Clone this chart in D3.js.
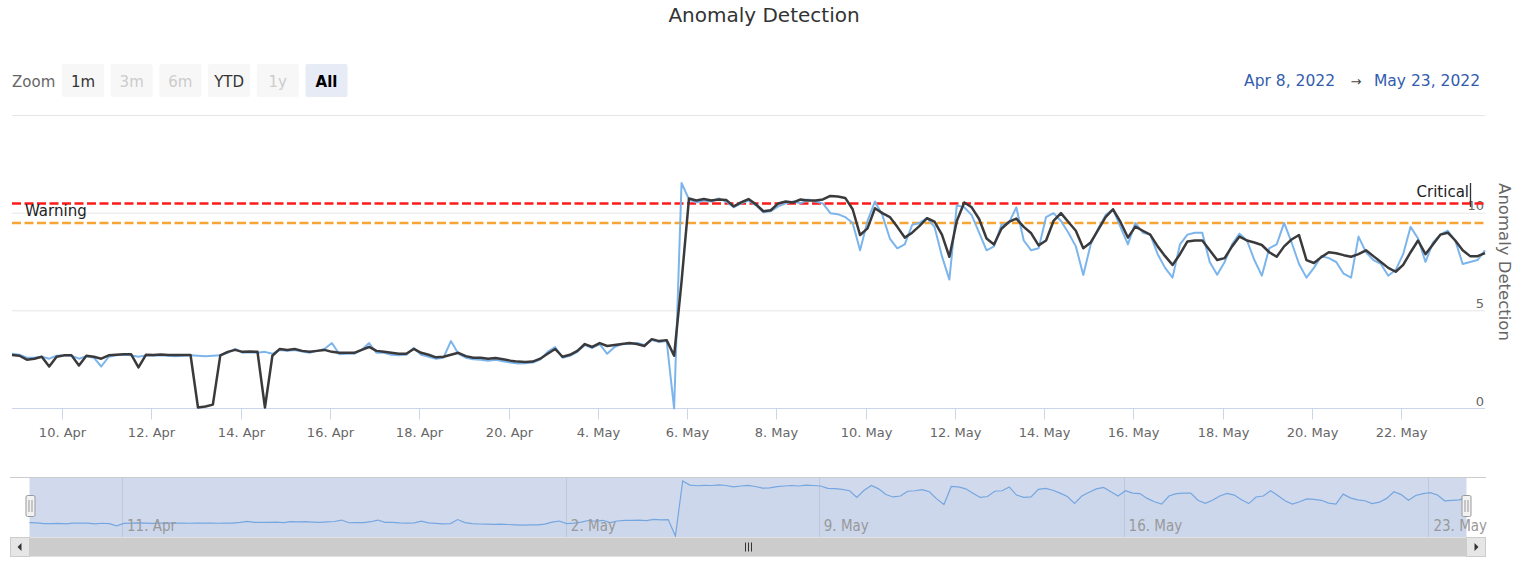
<!DOCTYPE html>
<html>
<head>
<meta charset="utf-8">
<script src="https://cdnjs.cloudflare.com/ajax/libs/d3/7.8.5/d3.min.js"></script>
<style>
  body { margin: 0; background: #fff; }
  svg { display: block; font-family: "DejaVu Sans", Verdana, sans-serif; }
</style>
</head>
<body>
<svg id="chart"></svg>
<script>
// two blocks of readings, one every 4 hours (no data between 21 Apr and 3 May)
const segStarts = ['2022-04-08T21:00:00', '2022-05-03T05:00:00'];
const stepHours = 4;

// raw anomaly score (light blue)
const rawSeg1 = [
  2.8, 2.75, 2.6, 2.6, 2.65, 2.55, 2.7, 2.72, 2.7, 2.55,
  2.68, 2.6, 2.15, 2.65, 2.72, 2.75, 2.72, 2.65, 2.72, 2.7,
  2.72, 2.7, 2.68, 2.7, 2.72, 2.7, 2.68, 2.7, 2.72, 2.85,
  3.05, 2.85, 2.88, 2.85, 2.9, 2.8, 3.0, 2.95, 3.0, 2.92,
  2.85, 2.95, 3.05, 3.35, 2.78, 2.8, 2.8, 3.0, 3.35, 2.85,
  2.85, 2.75, 2.72, 2.75, 3.1, 2.75, 2.65, 2.55, 2.6, 3.45,
  2.8, 2.6, 2.52, 2.5, 2.45, 2.5, 2.42, 2.35, 2.3, 2.32,
  2.35, 2.5, 2.9, 3.15
];
const rawSeg2 = [
  2.6, 2.7, 2.9, 3.25, 3.1, 3.3, 2.8, 3.15, 3.3, 3.3, 3.35, 3.25, 3.5, 3.4, 3.45, 0.0,
  11.55, 10.7, 10.55, 10.65, 10.6, 10.75, 10.6, 10.3, 10.5, 10.65,
  10.4, 10.05, 10.1, 10.35, 10.5, 10.6, 10.5, 10.7, 10.6,
  10.5, 10.0, 9.95, 9.8, 9.5, 8.1, 9.6, 10.6, 9.9, 8.7,
  8.2, 8.4, 9.4, 9.5, 9.75, 9.3, 7.8, 6.6, 10.4, 10.3,
  9.9, 9.0, 8.1, 8.3, 9.4, 9.5, 10.3, 8.6, 8.1, 8.2,
  9.8, 10.0, 9.6, 9.0, 8.3, 6.84, 8.4, 9.2, 9.9, 10.2,
  9.3, 8.4, 9.5, 9.0, 8.9, 7.9, 7.2, 6.7, 8.4, 8.9,
  9.0, 9.0, 7.5, 6.85, 7.5, 8.4, 8.95, 8.6, 7.6, 6.8,
  8.2, 8.4, 9.5, 8.5, 7.4, 6.7, 7.2, 7.8, 7.7, 7.5,
  6.9, 6.7, 8.8, 8.0, 7.6, 7.4, 6.8, 7.1, 7.9, 9.3,
  8.7, 7.5, 8.5, 8.9, 9.1, 8.6, 7.4, 7.5, 7.6, 8.1
];

// smoothed score (dark line)
const smoothSeg1 = [
  2.74, 2.7, 2.5, 2.55, 2.65, 2.15, 2.65, 2.72, 2.72, 2.2,
  2.7, 2.65, 2.55, 2.72, 2.75, 2.78, 2.78, 2.1, 2.75, 2.74,
  2.76, 2.74, 2.74, 2.74, 2.74, 0.05, 0.1, 0.2, 2.72, 2.9,
  3.0, 2.9, 2.92, 2.9, 0.05, 2.7, 3.05, 3.0, 3.05, 2.95,
  2.9, 2.95, 3.0, 2.9, 2.85, 2.85, 2.85, 3.0, 3.15, 2.95,
  2.9, 2.85, 2.8, 2.8, 3.05, 2.85, 2.75, 2.62, 2.65, 2.75,
  2.85, 2.68, 2.6, 2.6, 2.55, 2.58, 2.52, 2.45, 2.4, 2.38,
  2.4, 2.55, 2.8, 3.05
];
const smoothSeg2 = [
  2.65, 2.75, 2.95, 3.3, 3.15, 3.35, 3.2, 3.25, 3.3, 3.35, 3.3, 3.2, 3.55, 3.45, 3.5, 2.7,
  6.5, 10.75, 10.65, 10.72, 10.65, 10.7, 10.68, 10.35, 10.55, 10.72,
  10.45, 10.1, 10.15, 10.5, 10.6, 10.55, 10.7, 10.65, 10.65,
  10.7, 10.88, 10.85, 10.78, 10.2, 8.88, 9.22, 10.25, 10.0, 9.8,
  9.3, 8.75, 9.0, 9.35, 9.74, 9.57, 8.9, 7.77, 9.6, 10.55,
  10.3, 9.7, 8.7, 8.4, 9.2, 9.55, 9.72, 9.3, 8.97, 8.35,
  8.6, 9.6, 10.0, 9.55, 9.1, 8.2, 8.5, 9.14, 9.8, 10.2,
  9.55, 8.75, 9.31, 9.1, 8.9, 8.3, 7.8, 7.35, 7.9, 8.55,
  8.6, 8.6, 8.1, 7.6, 7.7, 8.3, 8.8, 8.6, 8.5, 8.37,
  8.0, 7.77, 8.3, 8.65, 8.88, 7.6, 7.45, 7.75, 8.0, 7.95,
  7.85, 7.77, 7.9, 8.1, 7.8, 7.5, 7.2, 7.0, 7.35, 8.0,
  8.6, 7.9, 8.4, 8.9, 9.0, 8.6, 8.1, 7.8, 7.8, 7.95
];

const xTicks = ['2022-04-10', '2022-04-12', '2022-04-14', '2022-04-16', '2022-04-18', '2022-04-20',
  '2022-05-04', '2022-05-06', '2022-05-08', '2022-05-10', '2022-05-12', '2022-05-14',
  '2022-05-16', '2022-05-18', '2022-05-20', '2022-05-22'];
const navTicks = ['2022-04-11', '2022-05-02', '2022-05-09', '2022-05-16', '2022-05-23'];
const yTicks = [0, 5, 10, 15];
const yLabels = [0, 5, 10];
const plotLines = [
  { value: 10.5, label: 'Critical', color: '#ff1a1a' },
  { value: 9.5, label: 'Warning', color: '#f7a535' }
];
const zoomButtons = ['1m', '3m', '6m', 'YTD', '1y', 'All'];
const zoomState = ['normal', 'disabled', 'disabled', 'normal', 'disabled', 'selected'];

const width = 1528, height = 562;
const plotLeft = 12, plotRight = 1485, plotTop = 115.5, plotBottom = 408.5;
const navLeft = 29.5, navRight = 1466.5, navTop = 478, navBottom = 537;

const svg = d3.select('#chart').attr('width', width).attr('height', height);

const parse = s => new Date(s);
const fmt = d3.timeFormat('%-d. %b');

function makePoints(seg1, seg2) {
  let pts = [];
  [seg1, seg2].forEach((seg, k) => {
    let t0 = parse(segStarts[k]).getTime();
    seg.forEach((v, i) => pts.push({ t: new Date(t0 + i * stepHours * 3600e3), v: v }));
  });
  return pts;
}

const raw = makePoints(rawSeg1, rawSeg2);
const smooth = makePoints(smoothSeg1, smoothSeg2);
const n1 = rawSeg1.length, N = raw.length;

// ordinal-like time scale: the empty days between the two blocks are collapsed
function ordinalScale(left, right) {
  let w = (right - left) / (N - 1);
  return d3.scaleTime()
    .domain([raw[0].t, raw[n1 - 1].t, raw[n1].t, raw[N - 1].t])
    .range([left, left + (n1 - 1) * w, left + n1 * w, right]);
}

const x = ordinalScale(plotLeft, plotRight);
const y = d3.scaleLinear().domain([0, 15]).range([plotBottom, plotTop]);
const xNav = ordinalScale(navLeft, navRight);
const yNav = d3.scaleLinear().domain([0, d3.max(raw, d => d.v)]).range([navBottom - 1, navTop + 3]);

// title
svg.append('text')
  .text('Anomaly Detection')
  .attr('x', width / 2).attr('y', 22)
  .attr('text-anchor', 'middle')
  .style('font-size', '20px').style('fill', '#333');

// range selector
svg.append('text').text('Zoom')
  .attr('x', 12).attr('y', 87)
  .style('font-size', '15px').style('fill', '#666');

const btn = svg.append('g').selectAll('g')
  .data(zoomButtons)
  .enter().append('g')
  .attr('transform', (d, i) => `translate(${62 + i * 48.7}, 64)`);
btn.append('rect')
  .attr('width', 42).attr('height', 33).attr('rx', 2)
  .attr('fill', (d, i) => zoomState[i] == 'selected' ? '#e6ebf5' : '#f7f7f7');
btn.append('text')
  .text(d => d)
  .attr('x', 21).attr('y', 23)
  .attr('text-anchor', 'middle')
  .style('font-size', '15px')
  .style('font-weight', (d, i) => zoomState[i] == 'selected' ? 'bold' : 'normal')
  .style('fill', (d, i) => zoomState[i] == 'disabled' ? '#cccccc' : (zoomState[i] == 'selected' ? '#000' : '#333'));

// date range inputs
const rangeText = svg.append('g').style('font-size', '15.5px');
rangeText.append('text').text(d3.timeFormat('%b %-d, %Y')(raw[0].t))
  .attr('x', 1335).attr('y', 86).attr('text-anchor', 'end').style('fill', '#335cad');
rangeText.append('text').text('\u2192')
  .attr('x', 1356).attr('y', 86).attr('text-anchor', 'middle').style('fill', '#444').style('font-size', '13px');
rangeText.append('text').text(d3.timeFormat('%b %-d, %Y')(raw[N - 1].t))
  .attr('x', 1480).attr('y', 86).attr('text-anchor', 'end').style('fill', '#335cad');

// grid lines
svg.append('g').selectAll('line')
  .data(yTicks.slice(1))
  .enter().append('line')
  .attr('x1', plotLeft).attr('x2', plotRight)
  .attr('y1', d => y(d)).attr('y2', d => y(d))
  .attr('stroke', '#e6e6e6');

// y labels, inside the plot on the right
svg.append('g').selectAll('text')
  .data(yLabels)
  .enter().append('text')
  .text(d => d)
  .attr('x', plotRight - 1).attr('y', d => y(d) - 3)
  .attr('text-anchor', 'end')
  .style('font-size', '13px').style('fill', '#666');

svg.append('text')
  .text('Anomaly Detection')
  .attr('transform', `translate(1499, ${(plotTop + plotBottom) / 2}) rotate(90)`)
  .attr('text-anchor', 'middle')
  .style('font-size', '16.5px').style('fill', '#666');

// x axis
const xAxis = svg.append('g');
xAxis.append('line')
  .attr('x1', plotLeft).attr('x2', plotRight)
  .attr('y1', plotBottom).attr('y2', plotBottom)
  .attr('stroke', '#ccd6eb');
const tick = xAxis.selectAll('g')
  .data(xTicks.map(parse))
  .enter().append('g')
  .attr('transform', d => `translate(${Math.round(x(d)) + 0.5}, 0)`);
tick.append('line')
  .attr('y1', plotBottom).attr('y2', plotBottom + 11)
  .attr('stroke', '#ccd6eb');
tick.append('text')
  .text(d => fmt(d))
  .attr('y', 437)
  .attr('text-anchor', 'middle')
  .style('font-size', '13px').style('fill', '#666');

// warning / critical lines
plotLines.forEach(p => {
  svg.append('line')
    .attr('x1', plotLeft).attr('x2', plotRight)
    .attr('y1', y(p.value)).attr('y2', y(p.value))
    .attr('stroke', p.color)
    .attr('stroke-width', 2.5)
    .attr('stroke-dasharray', '9,3.5');
});
svg.append('text').text(plotLines[0].label)
  .attr('x', 1469).attr('y', y(plotLines[0].value) - 6)
  .attr('text-anchor', 'end')
  .style('font-size', '15px').style('fill', '#222');
svg.append('line')
  .attr('x1', 1470.5).attr('x2', 1470.5)
  .attr('y1', 183).attr('y2', 207)
  .attr('stroke', '#333').attr('stroke-width', 1.3);
svg.append('text').text(plotLines[1].label)
  .attr('x', 25).attr('y', y(plotLines[1].value) - 7)
  .style('font-size', '15px').style('fill', '#222');

// series
const line = d3.line().x(d => x(d.t)).y(d => y(d.v));
svg.append('path')
  .attr('d', line(raw))
  .attr('fill', 'none')
  .attr('stroke', '#7cb5ec')
  .attr('stroke-width', 2)
  .attr('stroke-linejoin', 'round');
svg.append('path')
  .attr('d', line(smooth))
  .attr('fill', 'none')
  .attr('stroke', '#3a3a3c')
  .attr('stroke-width', 2.5)
  .attr('stroke-linejoin', 'round');

// navigator
const nav = svg.append('g');
nav.append('line')
  .attr('x1', 10).attr('x2', 1486)
  .attr('y1', navTop - 0.5).attr('y2', navTop - 0.5)
  .attr('stroke', '#cccccc');
nav.selectAll('.navgrid')
  .data(navTicks.map(parse))
  .enter().append('line')
  .attr('class', 'navgrid')
  .attr('x1', d => Math.round(xNav(d)) + 0.5).attr('x2', d => Math.round(xNav(d)) + 0.5)
  .attr('y1', navTop).attr('y2', navBottom)
  .attr('stroke', '#e6e6e6');
nav.append('path')
  .attr('d', d3.area().x(d => xNav(d.t)).y0(navBottom).y1(d => yNav(d.v))(raw))
  .attr('fill', '#7cb5ec').attr('fill-opacity', 0.05);
nav.append('path')
  .attr('d', d3.line().x(d => xNav(d.t)).y(d => yNav(d.v))(raw))
  .attr('fill', 'none')
  .attr('stroke', '#7cb5ec')
  .attr('stroke-width', 1.2);
nav.append('rect')
  .attr('x', navLeft).attr('y', navTop)
  .attr('width', navRight - navLeft).attr('height', navBottom - navTop)
  .attr('fill', 'rgba(102,133,194,0.3)');
nav.selectAll('.navlabel')
  .data(navTicks.map(parse))
  .enter().append('text')
  .attr('class', 'navlabel')
  .text(d => fmt(d))
  .attr('x', d => xNav(d) + 5).attr('y', 531)
  .style('font-family', '"DejaVu Sans Condensed", "Liberation Sans Narrow", sans-serif')
  .style('font-size', '15px').style('fill', '#999');

function makeHandle(cx) {
  let h = nav.append('g').attr('transform', `translate(${cx}, 0)`);
  h.append('rect')
    .attr('x', -4.5).attr('y', 495.5).attr('width', 9).attr('height', 21).attr('rx', 1.5)
    .attr('fill', '#f2f2f2').attr('stroke', '#999');
  [-1.5, 1.5].forEach(dx => {
    h.append('line')
      .attr('x1', dx).attr('x2', dx).attr('y1', 500).attr('y2', 512)
      .attr('stroke', '#999');
  });
}
makeHandle(navLeft + 1);
makeHandle(navRight);

// scrollbar
const sb = svg.append('g');
const sbTop = 537.5, sbH = 19;
sb.append('rect')
  .attr('x', 10.5).attr('y', sbTop).attr('width', 1475).attr('height', sbH)
  .attr('fill', '#f2f2f2');
sb.append('rect')
  .attr('x', navLeft).attr('y', sbTop).attr('width', navRight - navLeft).attr('height', sbH)
  .attr('fill', '#cccccc');
[[10.5, 'l'], [navRight, 'r']].forEach(([bx, dir]) => {
  sb.append('rect')
    .attr('x', bx).attr('y', sbTop).attr('width', 19).attr('height', sbH)
    .attr('fill', '#e6e6e6').attr('stroke', '#cccccc');
  let cx = bx + 9.5, cy = sbTop + sbH / 2;
  let pts = dir == 'l'
    ? [[cx + 1.5, cy - 4], [cx + 1.5, cy + 4], [cx - 2.5, cy]]
    : [[cx - 1.5, cy - 4], [cx - 1.5, cy + 4], [cx + 2.5, cy]];
  sb.append('path').attr('d', d3.line()(pts) + 'Z').attr('fill', '#333');
});
const mid = Math.round((navLeft + navRight) / 2) + 0.5;
[-3, 0, 3].forEach(dx => {
  sb.append('line')
    .attr('x1', mid + dx).attr('x2', mid + dx)
    .attr('y1', sbTop + 5).attr('y2', sbTop + sbH - 5)
    .attr('stroke', '#333');
});
</script>
</body>
</html>
